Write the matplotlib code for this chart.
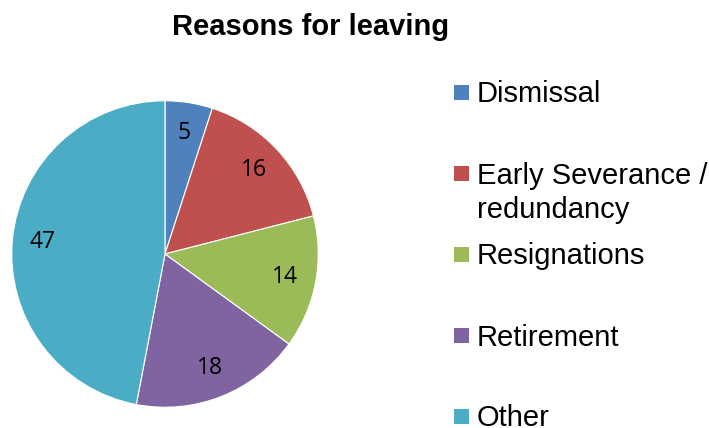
import matplotlib
matplotlib.use("Agg")
from matplotlib import pyplot as plt
from matplotlib.patches import Rectangle

reasons = ["Dismissal", "Early Severance /\nredundancy", "Resignations", "Retirement", "Other"]
counts = [5, 16, 14, 18, 47]
colors = ["#4F81BD", "#C0504D", "#9BBB59", "#8064A2", "#4BACC6"]

W, H = 709, 428
fig = plt.figure(figsize=(W / 100, H / 100), dpi=100)

# pie axes: centre (165, 254) px, radius 154 px
cx, cy, r = 165, 254, 154
ax = fig.add_axes([(cx - r) / W, 1 - (cy + r) / H, 2 * r / W, 2 * r / H])
wedges, texts = ax.pie(counts, colors=colors, startangle=90, counterclock=False,
                       labels=[str(c) for c in counts], labeldistance=0.8,
                       wedgeprops=dict(edgecolor="white", linewidth=0.8),
                       textprops=dict(fontsize=16.5, family="Open Sans", color="black"))
for t in texts:
    t.set_ha("center")
    t.set_va("center")
ax.set_xlim(-1.005, 1.005)
ax.set_ylim(-1.005, 1.005)
ax.set_aspect("equal")
ax.axis("off")

fig.text(311 / W, 1 - 27 / H, "Reasons for leaving", ha="center", va="center",
         fontsize=21, fontweight="bold", family="Liberation Sans")

# legend, drawn by hand: one swatch every 81 px
for i, (name, col) in enumerate(zip(reasons, colors)):
    yc = 92 + 81 * i
    fig.patches.append(Rectangle((454 / W, 1 - (yc + 7.5) / H), 15 / W, 15 / H,
                                 facecolor=col, edgecolor="none",
                                 transform=fig.transFigure))
    for j, line in enumerate(name.split("\n")):
        fig.text(477 / W, 1 - (yc + 10.5 + 34 * j) / H, line, ha="left",
                 va="baseline", fontsize=21, family="Liberation Sans",
                 color="black")

fig.savefig("out.png", dpi=100, facecolor="white")
